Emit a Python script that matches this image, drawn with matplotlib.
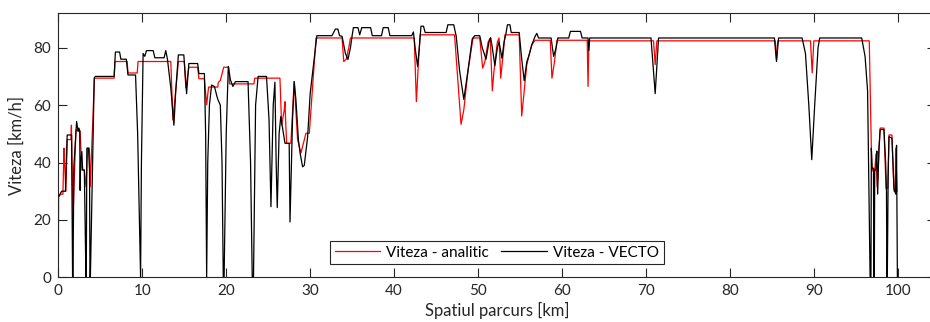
import matplotlib
matplotlib.use("Agg")
import matplotlib.pyplot as plt

# distance [km] / speed [km/h]
dist_analitic = [
    0.0, 0.02, 0.3, 0.55, 0.67, 0.75, 0.9, 1.06, 1.5, 1.56, 1.75, 2.1, 2.6, 2.8,
    3.1, 3.3, 3.5, 3.7, 3.8, 4.3, 4.4, 6.65, 6.75, 8.2, 8.3, 9.4, 9.5, 13.4,
    13.65, 14.0, 14.3, 15.0, 15.2, 15.55, 16.6, 16.75, 17.4, 17.67, 17.9, 19.0,
    19.05, 19.3, 19.7, 20.3, 20.4, 23.3, 23.4, 26.4, 26.6, 26.9, 27.0, 27.1,
    27.2, 27.7, 28.1, 28.5, 28.9, 29.5, 29.9, 30.7, 33.8, 34.0, 34.3, 34.6,
    34.8, 42.4, 42.65, 42.9, 43.1, 47.2, 47.97, 48.3, 48.8, 49.4, 50.2, 50.55,
    50.8, 51.2, 51.45, 51.7, 51.9, 52.3, 52.5, 52.7, 53.0, 53.2, 54.9, 55.2,
    55.5, 55.8, 56.1, 56.4, 56.8, 58.6, 58.8, 59.1, 59.4, 63.0, 63.1, 63.2,
    70.9, 71.1, 71.3, 85.4, 85.55, 85.7, 89.6, 89.8, 90.0, 96.6, 96.9, 97.1,
    97.25, 97.4, 97.55, 97.9, 98.35, 98.6, 98.8, 98.95, 99.3, 99.55, 99.7,
    99.75, 99.9,
]
viteza_analitic = [
    0, 28, 29, 29, 45, 40, 30, 48, 48, 53, 21, 51.4, 51, 37.4,
    37.4, 31.5, 45, 45, 31.5, 69.4, 69.4, 69.4, 75.2, 75.2, 71.2, 71.2, 75.2, 75.2,
    54.8, 65.5, 75.2, 75.2, 66, 73.2, 73.2, 69.2, 69.2, 60.1, 66.3, 66.3,
    67.9, 68.6, 73.2, 73.2, 67.4, 67.4, 69.4, 69.4, 53.1, 58, 61.2, 53,
    46.7, 46.7, 68.2, 48, 43.3, 50.2, 50.2, 83.4, 83.4, 75.2, 76, 80,
    83.4, 83.4, 61.2, 75, 84.5, 84.5, 53.3, 58.3, 72, 83.4, 83.4, 72.9,
    75, 82, 83.4, 65, 72, 82, 83.4, 69.4, 78, 84.5, 84.5, 56.2,
    65, 74, 77.7, 81, 82.6, 82.6, 69.4, 75, 82.6, 82.6, 66.5, 82.4,
    82.4, 74.1, 82.4, 82.4, 76, 82.4, 82.4, 71.2, 82.4, 82.4, 37, 38,
    37, 43, 31.5, 52, 52, 31, 31, 49.6, 49.6, 30, 30,
    45, 30,
]

dist_vecto = [
    0.0, 0.02, 0.4, 0.85, 0.95, 1.06, 1.58, 1.7, 1.75, 1.85, 2.18, 2.36, 2.45,
    2.55, 2.6, 2.65, 2.8, 2.9, 3.1, 3.29, 3.33, 3.4, 3.6, 3.72, 3.77, 3.82,
    4.28, 4.4, 6.65, 6.8, 7.3, 7.45, 8.1, 8.3, 9.2, 9.45, 9.8, 9.9, 10.1,
    10.3, 10.5, 11.3, 11.5, 12.6, 12.8, 13.0, 13.4, 13.77, 14.0, 14.3, 14.95,
    15.28, 15.55, 16.6, 16.75, 17.4, 17.55, 17.67, 17.8, 18.0, 18.26, 18.6,
    18.9, 19.0, 19.3, 19.5, 19.65, 19.75, 20.0, 20.25, 20.5, 20.8, 21.1, 22.6,
    22.9, 23.1, 23.25, 23.5, 23.8, 24.8, 25.1, 25.33, 25.6, 25.8, 25.95, 26.08,
    26.3, 26.5, 27.0, 27.5, 27.6, 27.9, 28.1, 28.3, 28.6, 28.8, 29.1, 29.3,
    29.7, 30.0, 30.6, 30.8, 32.6, 33.0, 33.3, 33.5, 33.8, 34.2, 34.5, 34.8,
    35.0, 35.15, 35.7, 35.9, 36.15, 37.2, 37.4, 38.5, 38.7, 39.3, 39.5, 42.1,
    42.3, 42.5, 42.8, 43.0, 43.2, 43.5, 43.7, 46.2, 46.4, 47.1, 47.4, 47.8,
    48.3, 48.8, 49.3, 49.6, 50.2, 50.5, 50.95, 51.3, 51.5, 51.7, 52.0, 52.3,
    52.5, 52.85, 53.1, 53.3, 53.5, 53.8, 53.95, 54.9, 55.2, 55.5, 55.8, 56.1,
    56.4, 56.8, 57.0, 57.2, 58.7, 59.0, 59.3, 59.5, 60.8, 61.0, 62.2, 62.4,
    63.1, 63.2, 63.3, 70.6, 71.1, 71.5, 85.3, 85.55, 85.8, 88.6, 89.0, 89.4,
    89.75, 90.1, 90.5, 90.7, 95.7, 96.1, 96.4, 96.7, 96.8, 96.85, 96.95, 97.1,
    97.15, 97.2, 97.25, 97.4, 97.5, 97.6, 97.75, 97.9, 98.35, 98.55, 98.65,
    98.7, 98.75, 98.85, 98.95, 99.3, 99.55, 99.75, 99.85, 99.95,
]
viteza_vecto = [
    0, 28, 30, 30, 40, 49.6, 49.6, 0, 0, 38.5, 54.3, 50.8, 52,
    51, 30.3, 40, 43.8, 37.4, 37.4, 0, 0, 45, 45, 37, 0, 0,
    69.4, 70, 70, 78.5, 78.5, 76, 76, 70.5, 70.5, 50, 0, 40, 78,
    77, 79, 79, 76.5, 76.5, 79, 76, 66, 53, 65.5, 77.5, 77.5,
    64, 74.5, 74.5, 71, 71, 50, 0, 40, 60, 67, 66.5,
    63, 62, 60, 40, 0, 0, 50, 73.5, 68.8, 66.5, 68.2, 68.2,
    40, 0, 0, 60, 70, 70, 55, 24.6, 60, 68, 40, 24.3,
    50, 56, 46.7, 46.7, 19.3, 55, 68.2, 62, 47.9, 43.3, 38.5, 39,
    49, 64, 79.3, 84.2, 84.2, 86.5, 86.5, 84.2, 84, 78, 75.9, 80,
    84.2, 87, 87, 84.5, 87, 87, 84.2, 84.2, 87, 87, 84.2, 84.2,
    85.5, 80, 73.5, 80, 87.5, 87.5, 85.3, 85.3, 88, 88, 84, 72,
    62, 72, 83, 84.2, 84.2, 80, 76, 82, 83.5, 80, 73.7, 80,
    82, 76.3, 82, 84.5, 88, 88, 85.3, 85.3, 76, 68.5, 75, 77.7,
    81, 84, 85, 83.4, 83.4, 77, 80, 83.4, 83.4, 85.7, 85.7, 83.4,
    83.4, 79, 83.4, 83.4, 64, 83.4, 83.4, 75.2, 83.4, 83.4, 78, 60,
    41, 60, 80, 83.4, 83.4, 77, 65, 0, 0, 45, 38, 38,
    0, 0, 37, 38, 44, 29, 45, 51.5, 51.5, 40, 30,
    0, 0, 35, 49, 48.5, 31, 29, 46, 0,
]

plt.rcParams["font.family"] = ["Lato", "DejaVu Sans"]
axis_color = "#262626"

fig = plt.figure(figsize=(9.3, 3.22), dpi=100)
# right edge of the box is cut off in the reference, so let it run past the figure
ax = fig.add_axes([0.0627, 0.1388, 0.9433, 0.8199])

ax.plot(dist_analitic, viteza_analitic, color="red", linewidth=0.9, label="Viteza - analitic")
ax.plot(dist_vecto, viteza_vecto, color="black", linewidth=0.9, label="Viteza - VECTO")

ax.set_xlim(0, 104.5)
ax.set_ylim(0, 92)
ax.set_xticks(range(0, 101, 10))
ax.set_yticks(range(0, 81, 20))
ax.tick_params(direction="in", length=6.5, width=0.8, colors=axis_color,
               labelsize=11, top=True, right=True, pad=5)
for s in ax.spines.values():
    s.set_color(axis_color)
    s.set_linewidth(0.8)

ax.set_xlabel("Spatiul parcurs [km]", fontsize=12, color=axis_color, labelpad=3)
ax.set_ylabel("Viteza [km/h]", fontsize=12, color=axis_color, labelpad=6)

leg = ax.legend(loc="lower center", bbox_to_anchor=(0.5, 0.05), ncol=2,
                fancybox=False, framealpha=1, edgecolor=axis_color,
                fontsize=11, handlelength=3, borderpad=0.3, borderaxespad=0,
                columnspacing=0.8, handletextpad=0.4)
leg.get_frame().set_linewidth(0.8)

fig.savefig("out.png", dpi=100)
